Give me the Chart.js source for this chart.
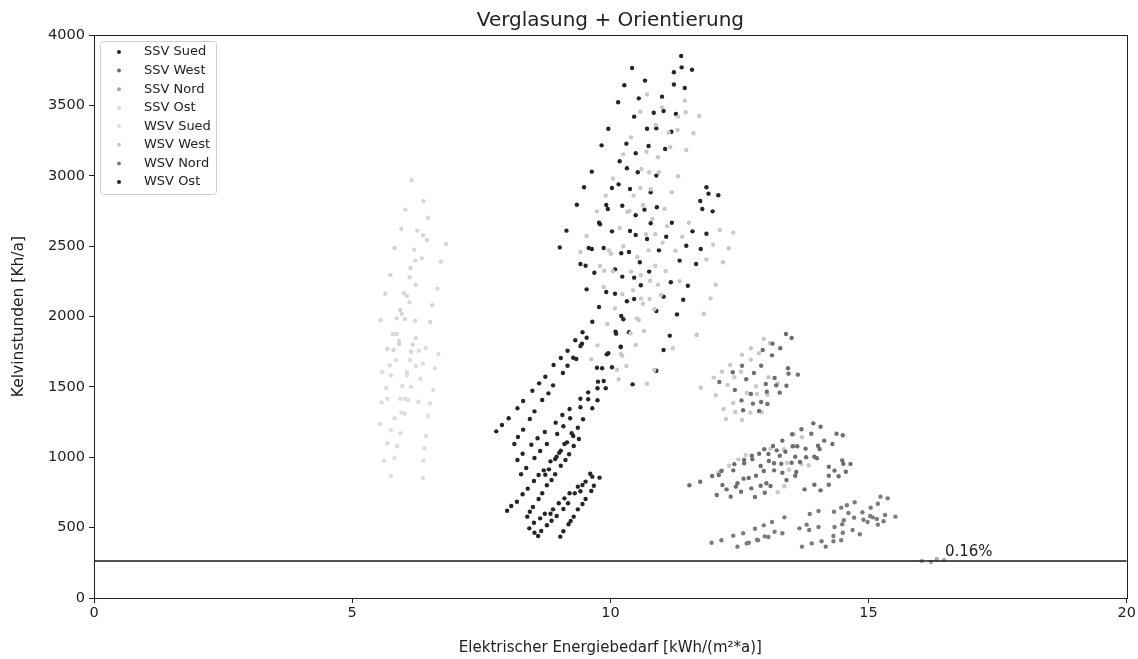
<!DOCTYPE html>
<html>
<head>
<meta charset="utf-8">
<script src="https://cdn.jsdelivr.net/npm/chart.js@4.4.1/dist/chart.umd.min.js"></script>
<style>
  html, body { margin: 0; padding: 0; background: #fff; }
  #wrap { width: 1138px; height: 659px; }
</style>
</head>
<body>
<div id="wrap"><canvas id="chart" width="1138" height="659"></canvas></div>
<script>
// axis ticks
const xTicks = [0, 5, 10, 15, 20];
const yTicks = [0, 500, 1000, 1500, 2000, 2500, 3000, 3500, 4000];
const thresholdY = 263;
const thresholdLabel = '0.16%';
const thresholdLabelX = 16.46;

// series: [x, y]
const ssvSued = [
    [9.32,1831],[9.45,1807],[9.42,1790],[9.17,1757],[10.20,1786],[9.96,1739],[9.93,1731],[9.04,1705],[9.28,1707],[9.34,1698],
    [8.90,1655],[9.17,1650],[9.74,1636],[9.84,1632],[10.03,1639],[9.08,1599],[8.74,1572],[9.76,1537],[9.87,1542],[8.62,1525],
    [8.89,1511],[9.75,1490],[9.91,1490],[8.49,1473],[8.80,1454],[9.57,1461],[8.31,1400],[8.68,1407],[9.42,1416],[9.57,1412],
    [9.75,1405],[8.20,1348],[8.53,1326],[9.21,1343],[9.42,1355],[9.65,1348],[8.03,1277],[8.44,1272],[9.07,1300],[9.22,1277],
    [9.47,1270],[8.94,1246],[7.90,1229],[7.79,1184],[8.31,1196],[8.73,1179],[8.97,1165],[9.09,1220],[9.25,1170],[9.28,1151],
    [9.37,1210],[9.39,1130],[8.21,1144],[8.59,1135],[8.14,1094],[8.47,1089],[8.77,1094],[9.11,1094],[9.16,1106],[8.64,1044],
    [9.04,1047],[9.01,1032],[9.29,1080],[8.30,1025],[9.20,1021],[8.53,995],[8.96,1004],[8.93,988],[8.84,971],[8.20,980],
    [9.13,980],[8.37,924],[9.04,940],[8.71,907],[8.81,914],[8.27,879],[8.61,874],[8.74,876],[8.93,879],[9.61,883],
    [9.65,862],[9.79,855],[8.86,838],[8.52,831],[9.52,827],[9.46,803],[9.37,791],[8.77,801],[8.40,777],[9.68,798],
    [9.42,758],[9.63,760],[8.30,737],[8.68,744],[9.21,744],[9.31,744],[9.52,703],[8.61,703],[9.11,708],[8.19,684],
    [9.00,673],[9.18,673],[8.08,654],[8.50,647],[9.46,668],[8.00,620],[8.89,630],[9.09,632],[9.37,630],[8.44,613],
    [8.73,599],[8.84,599],[9.29,578],[8.39,578],[8.64,566],[8.96,583],[9.23,547],[8.86,549],[8.52,535],[8.77,517],
    [9.19,524],[8.66,476],[8.60,440],[8.43,495],[9.09,474],[9.03,436],[8.53,464]
];
const ssvWest = [
    [13.40,1876],[13.51,1847],[13.14,1807],[12.95,1762],[13.29,1774],[13.13,1724],[12.55,1650],[12.92,1650],[13.44,1632],[13.45,1594],
    [13.63,1587],[12.37,1604],[12.78,1599],[12.63,1554],[13.18,1563],[12.11,1535],[13.01,1520],[13.21,1511],[13.41,1508],[12.41,1478],
    [13.28,1459],[12.72,1449],[13.03,1466],[12.54,1404],[12.76,1381],[12.92,1393],[13.04,1378],[12.57,1334],[12.88,1329],
    [13.93,1241],[14.07,1217],[13.70,1199],[13.52,1163],[13.89,1167],[14.38,1167],[14.50,1156],[13.33,1118],[13.15,1080],[12.98,1057],
    [13.53,1078],[13.62,1078],[13.78,1061],[14.02,1082],[14.14,1118],[14.30,1094],[14.05,1059],[13.22,1049],[13.39,1039],[12.88,1025],
    [13.06,1023],[13.28,1011],[13.58,1004],[13.79,1000],[13.95,1004],[14.00,993],[12.74,1011],[12.75,985],[12.59,980],[12.59,957],
    [12.40,951],[12.38,907],[12.15,902],[11.97,867],[11.74,826],[11.53,801],[13.07,973],[13.17,957],[13.31,954],[13.51,961],
    [13.67,966],[14.23,933],[14.49,978],[14.51,954],[14.65,952],[12.91,938],[12.97,902],[13.17,907],[13.33,890],[13.60,895],
    [13.41,838],[13.58,869],[14.34,905],[14.56,897],[14.42,865],[14.23,869],[12.58,848],[12.68,853],[12.82,869],[12.73,779],
    [12.46,815],[12.43,791],[12.53,755],[12.25,772],[12.33,720],[12.06,732],[13.02,815],[13.10,796],[12.99,748],[12.80,718],
    [12.91,798],[13.76,772],[13.95,805],[14.07,765],[14.23,805],[12.17,803],[12.10,874]
];
const ssvNord = [[16.03,263],[16.21,256],[16.32,275],[16.46,270]];
const ssvOst = [
    [6.15,2968],[6.38,2820],[6.03,2759],[6.47,2702],[5.95,2622],[6.26,2610],[6.37,2577],[6.45,2544],[6.82,2515],[5.82,2487],
    [6.20,2475],[6.22,2397],[6.35,2413],[6.72,2390],[6.13,2345],[5.74,2295],[6.11,2278],[6.23,2226],[6.65,2198],[5.64,2162],
    [6.00,2165],[6.06,2148],[6.11,2101],[6.55,2080],[5.93,2046],[5.96,2018],[5.55,1973],[5.86,1987],[6.02,1982],[6.22,1970],
    [6.51,1961],[5.79,1876],[5.86,1876],[6.23,1847],[5.91,1826],[5.91,1805],[6.17,1800],[5.68,1769],[5.80,1762],[6.14,1750]
];
const wsvSued = [
    [6.29,1757],[6.42,1778],[6.67,1734],[5.85,1689],[6.12,1689],[5.73,1653],[6.23,1648],[6.37,1665],[5.58,1604],[5.75,1582],
    [6.06,1604],[6.06,1580],[6.60,1632],[6.32,1558],[5.66,1494],[5.97,1506],[6.14,1501],[6.57,1478],[5.57,1390],[5.68,1416],
    [5.93,1416],[6.02,1416],[6.08,1407],[6.28,1395],[6.51,1383],[5.95,1317],[6.02,1309],[5.82,1277],[6.47,1293],[5.53,1236],
    [5.75,1191],[5.93,1170],[6.43,1151],[5.68,1099],[5.87,1078],[6.40,1064],[5.62,976],[5.82,995],[6.38,976],[5.75,869],
    [6.37,853]
];
const wsvWest = [
    [10.71,3578],[11.00,3486],[10.58,3455],[11.44,3533],[11.46,3451],[11.72,3425],[11.31,3420],[10.88,3361],[11.13,3306],[11.30,3325],
    [11.61,3302],[10.40,3273],[11.16,3204],[11.47,3183],[10.70,3171],[10.92,3131],[10.25,3152],[10.60,3048],[10.75,3025],[10.94,3025],
    [10.05,2980],[11.31,2996],[10.58,2913],[10.78,2904],[10.45,2859],[9.91,2859],[11.19,2883],[10.63,2792],[10.33,2743],[10.37,2750],
    [9.74,2747],[11.05,2764],[10.81,2693],[11.52,2666],[10.18,2629],[11.10,2641],[12.12,2615],[12.38,2596],[9.54,2572],[10.69,2584],
    [10.87,2584],[11.39,2567],[11.01,2525],[10.25,2499],[9.42,2458],[9.97,2470],[10.01,2446],[10.74,2470],[11.26,2468],[11.99,2511],
    [12.29,2485],[10.52,2423],[10.87,2361],[11.86,2406],[12.18,2385],[9.80,2359],[9.88,2325],[10.05,2321],[11.07,2323],[10.40,2319],
    [10.59,2293],[10.77,2254],[10.92,2226],[11.34,2250],[12.04,2226],[9.87,2210],[10.23,2158],[10.44,2186],[10.59,2127],[10.76,2124],
    [10.98,2153],[11.94,2129],[10.09,2058],[10.63,2091],[10.85,2051],[11.81,2020],[9.94,1947],[10.51,1987],[10.55,1975],[10.39,1881],
    [10.65,1897],[11.67,1869],[9.75,1795],[10.49,1797],[11.21,1774],[9.63,1696],[10.20,1736],[10.23,1722],[10.31,1648],[10.13,1622],
    [10.85,1620],[10.16,1554],[10.71,1522],
    [11.67,1871],[12.97,1840],[13.09,1812],[12.72,1774],[12.88,1739],[12.55,1729],[12.72,1693],[12.32,1655],[12.16,1608],[12.53,1608],
    [12.00,1566],[12.40,1568],[13.06,1568],[12.27,1513],[12.82,1504],[13.24,1525],[11.75,1494],[12.04,1440],[12.64,1456],[12.84,1451],
    [13.04,1444],[12.38,1385],[12.19,1343],[12.42,1322],[12.71,1317],[12.93,1320],[12.24,1272],[12.55,1265],
    [13.55,1163],[13.71,1142],[13.10,1061],[13.36,1057],[13.57,1080],[12.62,1016],[12.48,985],[12.30,940],[12.16,907],[12.09,890],
    [13.42,959],[13.46,912],[13.70,952],[13.84,943],[13.24,751],[13.37,794]
];
const wsvNord = [
    [15.23,720],[15.37,708],[14.73,680],[14.58,659],[15.18,670],[15.04,642],[14.47,642],[14.33,613],[14.61,604],[13.86,597],
    [14.03,618],[14.88,609],[15.03,583],[15.08,573],[15.16,561],[14.90,556],[14.98,540],[14.72,571],[14.52,552],[14.49,524],
    [15.32,590],[15.52,578],[15.29,545],[15.18,521],[14.69,483],[14.83,453],[14.34,504],[14.50,464],[14.32,440],[14.03,504],
    [13.80,521],[13.66,495],[13.85,483],[13.37,573],[13.13,540],[12.97,516],[12.80,492],[13.18,471],[12.57,460],[12.38,443],
    [12.15,410],[11.96,393],[13.33,460],[13.06,433],[12.99,438],[12.86,410],[12.84,414],[12.68,393],[12.64,388],[12.46,365],
    [14.32,403],[14.47,410],[14.17,365],[14.09,403],[13.90,388],[13.71,365]
];
const wsvOst = [
    [11.37,3851],[10.42,3766],[11.23,3735],[11.38,3770],[11.58,3753],[10.67,3676],[10.27,3643],[11.23,3648],[11.44,3623],[10.15,3522],
    [10.55,3550],[11.00,3562],[10.84,3448],[11.03,3460],[11.27,3439],[10.46,3420],[9.96,3334],[10.71,3334],[10.89,3337],[11.18,3313],
    [9.83,3216],[10.31,3228],[10.74,3211],[11.06,3190],[10.49,3160],[10.18,3103],[9.64,3029],[10.32,3053],[10.53,3025],[10.89,3001],
    [9.49,2918],[10.03,2913],[10.16,2939],[10.38,2906],[10.78,2883],[11.86,2918],[11.90,2873],[12.09,2861],[11.74,2821],[11.78,2764],
    [11.98,2747],[9.35,2794],[9.92,2792],[9.95,2764],[10.23,2787],[10.49,2719],[10.66,2759],[10.90,2776],[9.78,2666],[9.80,2655],
    [10.03,2605],[10.38,2607],[10.49,2579],[10.71,2551],[10.78,2662],[11.19,2666],[11.08,2567],[9.15,2610],[11.59,2605],[11.86,2588],
    [11.47,2503],[11.75,2480],[9.02,2491],[9.58,2487],[9.64,2480],[9.87,2487],[10.21,2449],[10.36,2458],[10.94,2470],[11.34,2397],
    [11.66,2373],[9.42,2373],[9.52,2361],[9.69,2311],[10.09,2335],[10.57,2385],[10.75,2319],[10.23,2283],[10.46,2276],[10.59,2222],
    [11.03,2141],[11.17,2243],[11.50,2219],[11.41,2119],[9.54,2193],[9.92,2174],[10.09,2162],[10.32,2108],[10.46,2124],[9.78,2067],
    [10.89,2039],[11.29,2015],[9.65,1963],[10.21,2004],[10.25,1980],[10.10,1892],[10.11,1878],[10.36,1888],[9.46,1888],[9.54,1849],
    [11.15,1864],[10.20,1783],[11.03,1762],[10.89,1615],[10.43,1518]
];

const seriesNames = ['SSV Sued', 'SSV West', 'SSV Nord', 'SSV Ost', 'WSV Sued', 'WSV West', 'WSV Nord', 'WSV Ost'];
const seriesData = [ssvSued, ssvWest, ssvNord, ssvOst, wsvSued, wsvWest, wsvNord, wsvOst];
const seriesColors = ['#262626', '#6e6e6e', '#a8a8a8', '#d6d6d6', '#dddddd', '#c8c8c8', '#7c7c7c', '#262626'];

const FONT = "'DejaVu Sans', sans-serif";

const scatterSets = seriesNames.map((name, i) => ({
    label: name,
    data: seriesData[i].map(p => ({ x: p[0], y: p[1] })),
    backgroundColor: seriesColors[i],
    borderWidth: 0,
    pointRadius: 2.2,
    pointHoverRadius: 2.2
}));

const lineSet = {
    label: 'limit',
    data: [{ x: xTicks[0], y: thresholdY }, { x: xTicks[xTicks.length - 1], y: thresholdY }],
    showLine: true,
    borderColor: '#1a1a1a',
    borderWidth: 1.3,
    pointRadius: 0
};

// title, frame, legend box and label
const decor = {
    id: 'decor',
    afterDraw(chart) {
        const ctx = chart.ctx;
        const a = chart.chartArea;
        ctx.save();
        ctx.strokeStyle = '#222';
        ctx.lineWidth = 1;
        ctx.strokeRect(Math.round(a.left) + 0.5, Math.round(a.top) + 0.5, Math.round(a.right - a.left), Math.round(a.bottom - a.top));

        ctx.fillStyle = '#222';
        ctx.font = '20px ' + FONT;
        ctx.textAlign = 'center';
        ctx.textBaseline = 'middle';
        ctx.fillText('Verglasung + Orientierung', (a.left + a.right) / 2, 21);

        const xs = chart.scales.x, ys = chart.scales.y;
        ctx.font = '15px ' + FONT;
        ctx.textAlign = 'left';
        ctx.textBaseline = 'bottom';
        ctx.fillText(thresholdLabel, xs.getPixelForValue(thresholdLabelX) + 1, ys.getPixelForValue(thresholdY) - 1);

        // legend
        const lx = a.left + 6.5, ly = a.top + 6.5, lw = 116, lh = 153, r = 3;
        ctx.beginPath();
        ctx.moveTo(lx + r, ly);
        ctx.arcTo(lx + lw, ly, lx + lw, ly + lh, r);
        ctx.arcTo(lx + lw, ly + lh, lx, ly + lh, r);
        ctx.arcTo(lx, ly + lh, lx, ly, r);
        ctx.arcTo(lx, ly, lx + lw, ly, r);
        ctx.closePath();
        ctx.fillStyle = 'rgba(255,255,255,0.85)';
        ctx.fill();
        ctx.strokeStyle = '#d0d0d0';
        ctx.stroke();

        ctx.font = '13px ' + FONT;
        ctx.textBaseline = 'middle';
        seriesNames.forEach((name, i) => {
            const y = a.top + 17 + i * 18.57;
            ctx.beginPath();
            ctx.arc(a.left + 25, y, 2, 0, Math.PI * 2);
            ctx.fillStyle = seriesColors[i];
            ctx.fill();
            ctx.fillStyle = '#222';
            ctx.fillText(name, a.left + 50, y);
        });
        ctx.restore();
    }
};

new Chart(document.getElementById('chart').getContext('2d'), {
    type: 'scatter',
    data: { datasets: [lineSet, ...scatterSets] },
    options: {
        responsive: false,
        animation: false,
        devicePixelRatio: 1,
        layout: { padding: { left: 0, right: 9, top: 35, bottom: 0 } },
        plugins: { legend: { display: false }, tooltip: { enabled: false }, title: { display: false } },
        scales: {
            x: {
                type: 'linear',
                min: 0, max: 20,
                afterFit: s => { s.height = 61; },
                afterBuildTicks: s => { s.ticks = xTicks.map(v => ({ value: v })); },
                grid: { drawOnChartArea: false, drawTicks: true, tickLength: 5, color: '#222' },
                border: { display: false },
                ticks: { color: '#222', font: { family: FONT, size: 14.5 }, padding: 2, maxRotation: 0, callback: v => String(v) },
                title: { display: true, text: 'Elektrischer Energiebedarf [kWh/(m²*a)]', color: '#222', font: { family: FONT, size: 15 }, padding: { top: 0, bottom: 2 } }
            },
            y: {
                type: 'linear',
                min: 0, max: 4000,
                afterFit: s => { s.width = 94; },
                afterBuildTicks: s => { s.ticks = yTicks.map(v => ({ value: v })); },
                grid: { drawOnChartArea: false, drawTicks: true, tickLength: 5, color: '#222' },
                border: { display: false },
                ticks: { color: '#222', font: { family: FONT, size: 14.5 }, padding: 4, callback: v => String(v) },
                title: { display: true, text: 'Kelvinstunden [Kh/a]', color: '#222', font: { family: FONT, size: 15.5 }, padding: { top: 10, bottom: 0 } }
            }
        }
    },
    plugins: [decor]
});
</script>
</body>
</html>
